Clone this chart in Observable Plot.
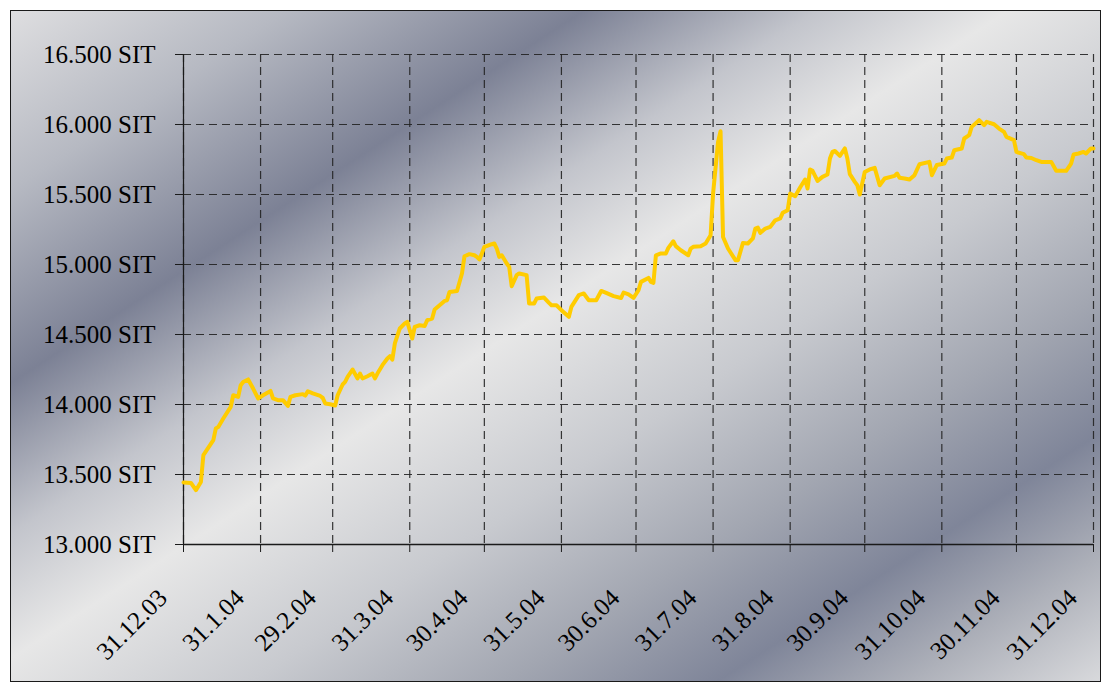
<!DOCTYPE html>
<html>
<head>
<meta charset="utf-8">
<script src="https://cdn.jsdelivr.net/npm/d3@7"></script>
<script src="https://cdn.jsdelivr.net/npm/@observablehq/plot@0.6"></script>
<style>
  html, body { margin: 0; padding: 0; background: #ffffff; }
  #wrap { position: relative; width: 1101px; height: 682px; overflow: hidden; background: #ffffff; }
  #frame {
    position: absolute; left: 10px; top: 10px; width: 1091px; height: 672px;
    box-sizing: border-box; border: 1px solid #1a1a1a;
    background: linear-gradient(147deg, #dedee0 0%, #b6b9c2 13%, #7c8195 27%, #c3c5cc 38%, #e7e7e7 47%, #c8cacf 60%, #a2a6b1 72%, #7f8599 82%, #adb0b9 91%, #d8d9dc 100%);
  }
  #chart { position: absolute; left: 0; top: 0; }
</style>
</head>
<body>
<div id="wrap"><div id="frame"></div><div id="chart"></div></div>
<script>
const dates = [
  "2003-12-31","2004-01-03","2004-01-05","2004-01-07","2004-01-08","2004-01-12","2004-01-13","2004-01-14","2004-01-16","2004-01-19","2004-01-20","2004-01-22","2004-01-23","2004-01-24","2004-01-26","2004-01-28","2004-01-30",
  "2004-02-01","2004-02-04","2004-02-05","2004-02-07","2004-02-09","2004-02-11","2004-02-12","2004-02-14","2004-02-17","2004-02-18","2004-02-19","2004-02-21","2004-02-24","2004-02-25","2004-02-26","2004-02-28",
  "2004-03-01","2004-03-02","2004-03-04","2004-03-05","2004-03-06","2004-03-08","2004-03-10","2004-03-11","2004-03-12","2004-03-14","2004-03-16","2004-03-17","2004-03-18","2004-03-20","2004-03-22","2004-03-23","2004-03-24","2004-03-25","2004-03-27","2004-03-29","2004-03-30",
  "2004-04-01","2004-04-02","2004-04-04","2004-04-06","2004-04-07","2004-04-09","2004-04-10","2004-04-12","2004-04-14","2004-04-15","2004-04-16","2004-04-19","2004-04-21","2004-04-22","2004-04-24","2004-04-26","2004-04-27","2004-04-28","2004-04-29","2004-04-30",
  "2004-05-03","2004-05-04","2004-05-05","2004-05-06","2004-05-07","2004-05-09","2004-05-10","2004-05-11","2004-05-13","2004-05-14","2004-05-17","2004-05-18","2004-05-20","2004-05-21","2004-05-24","2004-05-26","2004-05-27","2004-05-29","2004-05-31",
  "2004-06-03","2004-06-04","2004-06-07","2004-06-09","2004-06-11","2004-06-14","2004-06-16","2004-06-18","2004-06-21","2004-06-24","2004-06-25","2004-06-27","2004-06-29",
  "2004-07-01","2004-07-02","2004-07-05","2004-07-06","2004-07-07","2004-07-08","2004-07-10","2004-07-12","2004-07-13","2004-07-15","2004-07-16","2004-07-18","2004-07-21","2004-07-22","2004-07-23","2004-07-26","2004-07-28","2004-07-30","2004-07-31",
  "2004-08-02","2004-08-03","2004-08-04","2004-08-06","2004-08-09","2004-08-10","2004-08-12","2004-08-14","2004-08-16","2004-08-17","2004-08-18","2004-08-19","2004-08-21","2004-08-23","2004-08-25","2004-08-27","2004-08-28","2004-08-30","2004-08-31",
  "2004-09-02","2004-09-04","2004-09-06","2004-09-07","2004-09-08","2004-09-09","2004-09-11","2004-09-13","2004-09-15","2004-09-16","2004-09-17","2004-09-18","2004-09-20","2004-09-22","2004-09-23","2004-09-24","2004-09-26","2004-09-27","2004-09-28","2004-09-30",
  "2004-10-02","2004-10-04","2004-10-06","2004-10-08","2004-10-12","2004-10-13","2004-10-14","2004-10-16","2004-10-18","2004-10-20","2004-10-22","2004-10-26","2004-10-27","2004-10-29",
  "2004-11-01","2004-11-02","2004-11-04","2004-11-05","2004-11-08","2004-11-09","2004-11-11","2004-11-12","2004-11-15","2004-11-17","2004-11-18","2004-11-21","2004-11-23","2004-11-25","2004-11-26","2004-11-29","2004-11-30",
  "2004-12-03","2004-12-04","2004-12-06","2004-12-08","2004-12-10","2004-12-14","2004-12-16","2004-12-20","2004-12-22","2004-12-23","2004-12-25","2004-12-27","2004-12-28","2004-12-30","2004-12-31"
];
const values = [
  13443,13440,13388,13447,13638,13745,13829,13840,13900,13983,14066,14054,14138,14161,14179,14114,14043,
  14066,14097,14043,14031,14031,13990,14054,14066,14074,14064,14095,14079,14061,14047,14007,14002,
  13993,14066,14143,14161,14197,14250,14186,14221,14186,14202,14221,14186,14221,14281,14329,14345,14321,14436,14543,14579,14590,
  14471,14554,14566,14561,14602,14614,14679,14709,14740,14745,14804,14811,14936,15059,15074,15066,15054,15036,15079,15126,
  15145,15150,15114,15054,15066,15007,14983,14845,14924,14936,14924,14721,14721,14757,14764,14726,14709,14709,14674,
  14626,14697,14781,14793,14745,14745,14811,14797,14774,14761,14800,14786,14761,
  14816,14876,14904,14876,14869,15066,15079,15079,15119,15166,15131,15102,15066,15114,15126,15131,15150,15209,15507,
  15876,15952,15197,15114,15031,15031,15154,15150,15186,15257,15264,15226,15257,15269,15316,15329,15369,15388,15507,
  15488,15550,15607,15543,15679,15669,15597,15626,15643,15757,15804,15811,15776,15829,15757,15645,15590,15566,15500,15661,
  15679,15690,15566,15614,15633,15650,15619,15614,15607,15638,15716,15733,15638,15711,
  15721,15757,15764,15816,15829,15900,15924,15983,16031,15995,16019,16002,15971,15947,15911,15888,15804,
  15788,15764,15761,15745,15733,15733,15669,15669,15721,15786,15793,15804,15793,15829,15829
];
const monthTicks = ["2003-12-31","2004-01-31","2004-02-29","2004-03-31","2004-04-30","2004-05-31","2004-06-30","2004-07-31","2004-08-31","2004-09-30","2004-10-31","2004-11-30","2004-12-31"];
const monthLabels = ["31.12.03","31.1.04","29.2.04","31.3.04","30.4.04","31.5.04","30.6.04","31.7.04","31.8.04","30.9.04","31.10.04","30.11.04","31.12.04"];
const yTicks = [13000, 13500, 14000, 14500, 15000, 15500, 16000, 16500];
const yLabels = ["13.000 SIT","13.500 SIT","14.000 SIT","14.500 SIT","15.000 SIT","15.500 SIT","16.000 SIT","16.500 SIT"];

const series = dates.map((d, i) => ({date: new Date(d), value: values[i]}));
const tickData = monthTicks.map((d, i) => ({date: new Date(d), label: monthLabels[i]}));
const font = "'Palatino Linotype', 'Book Antiqua', Palatino, 'Liberation Serif', 'DejaVu Serif', serif";

const chart = Plot.plot({
  width: 1101,
  height: 682,
  marginLeft: 183,
  marginRight: 8,
  marginTop: 54,
  marginBottom: 138,
  style: {background: "transparent", fontFamily: font, fontSize: "25px", color: "#000", overflow: "visible"},
  x: {type: "utc", domain: [new Date(monthTicks[0]), new Date(monthTicks[monthTicks.length - 1])]},
  y: {domain: [yTicks[0], yTicks[yTicks.length - 1]]},
  marks: [
    Plot.gridX(tickData.map(d => d.date), {stroke: "#222", strokeOpacity: 0.9, strokeWidth: 1.2, strokeDasharray: "8,5"}),
    Plot.gridY(yTicks, {stroke: "#222", strokeOpacity: 0.9, strokeWidth: 1.2, strokeDasharray: "8,5"}),
    Plot.ruleX([new Date(monthTicks[0])], {y1: yTicks[0], y2: yTicks[yTicks.length - 1], stroke: "#1a1a1a", strokeWidth: 1.2}),
    Plot.ruleY([yTicks[0]], {stroke: "#1a1a1a", strokeWidth: 1.5}),
    Plot.axisY(yTicks, {tickSize: 8, tickPadding: 20, tickFormat: d => yLabels[yTicks.indexOf(d)], fontSize: 25, label: null, stroke: "#1a1a1a", color: "#000"}),
    Plot.axisX(tickData.map(d => d.date), {tickSize: 8, tickFormat: () => "", label: null, stroke: "#1a1a1a"}),
    Plot.text(tickData, {x: "date", frameAnchor: "bottom", text: "label", rotate: -45, textAnchor: "end", lineAnchor: "bottom", dx: -15, dy: 55, fontSize: 25, fill: "#000"}),
    Plot.line(series, {x: "date", y: "value", stroke: "#FFCC00", strokeWidth: 4, strokeLinejoin: "round", strokeLinecap: "round"})
  ]
});
document.getElementById("chart").appendChild(chart);
</script>
</body>
</html>
